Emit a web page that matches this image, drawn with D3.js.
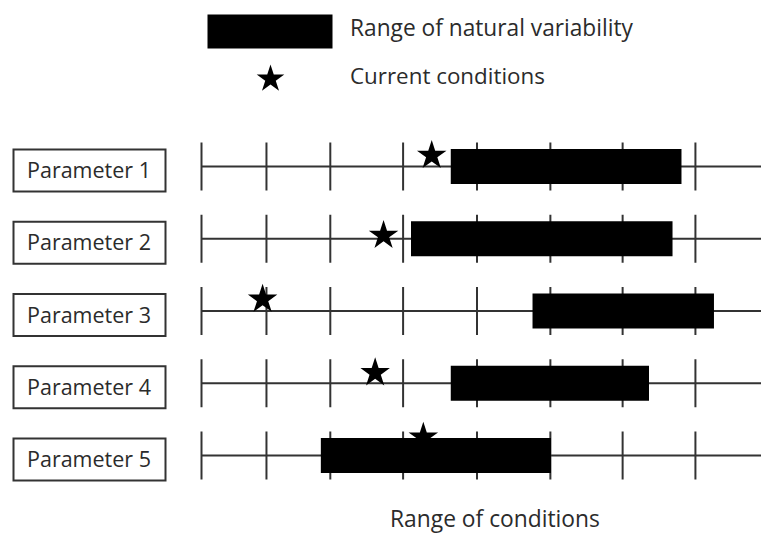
<!DOCTYPE html>
<html>
<head>
<meta charset="utf-8">
<script src="https://cdn.jsdelivr.net/npm/d3@7"></script>
<style>
  html, body { margin: 0; padding: 0; background: #fff; }
  svg { display: block; }
  text { font-family: "Open Sans", Lato, sans-serif; fill: #2b2b2b; }
</style>
</head>
<body>
<svg id="chart" width="761" height="533"></svg>
<script>
// ---- data (x in "condition" units 0..100) ----
const parameters = ["Parameter 1", "Parameter 2", "Parameter 3", "Parameter 4", "Parameter 5"];
const naturalLow  = [44.6, 37.5, 59.2, 44.6, 21.4];
const naturalHigh = [85.8, 84.2, 91.6, 80.0, 62.5];
const currentCond = [41.2, 32.6, 11.0, 31.1, 39.7];
const tickValues  = [0, 11.6, 23.0, 36.0, 49.2, 62.3, 75.2, 88.2];
const legendLabels = ["Range of natural variability", "Current conditions"];
const axisTitle = "Range of conditions";

// ---- layout ----
const svg = d3.select("#chart");
const x = d3.scaleLinear().domain([0, 100]).range([201, 761]);
const y = d3.scalePoint().domain(parameters).range([166, 455]);
const starLift = [10.5, 2.8, 11.2, 9.9, 17.8]; // hand-placed vertical offset of each star above its line
const starR = 15.5;
const starSize = starR * starR / 0.8908130915292852;
const star = d3.symbol().type(d3.symbolStar).size(starSize);

const rows = parameters.map((p, i) => ({
  name: p, lo: naturalLow[i], hi: naturalHigh[i], cur: currentCond[i], lift: starLift[i]
}));

// fit a text element to a target width by adjusting font size
function fitWidth(sel, target) {
  sel.each(function () {
    const t = d3.select(this);
    const w = this.getComputedTextLength();
    const fs = parseFloat(t.attr("font-size"));
    if (w > 0) t.attr("font-size", (fs * target / w).toFixed(2));
  });
}

// legend
const legend = svg.append("g");
legend.append("rect").attr("x", 207.5).attr("y", 14.5).attr("width", 125).attr("height", 34)
  .attr("fill", "#000");
legend.append("path").attr("d", d3.symbol().type(d3.symbolStar).size(14.5 * 14.5 / 0.8908130915292852)())
  .attr("transform", "translate(270.5,79)").attr("fill", "#000");
const legTargets = [283, 195];
legend.selectAll("text.leg").data(legendLabels).join("text").attr("class", "leg")
  .attr("x", 350).attr("y", (d, i) => i === 0 ? 36 : 84)
  .attr("font-size", 21).text(d => d)
  .each(function (d, i) { fitWidth(d3.select(this), legTargets[i]); });

// rows
const row = svg.selectAll("g.row").data(rows).join("g").attr("class", "row")
  .attr("transform", d => `translate(0,${y(d.name)})`);

// label boxes
row.append("rect").attr("x", 13.5).attr("y", -16.5).attr("width", 152).attr("height", 42)
  .attr("fill", "#fff").attr("stroke", "#333").attr("stroke-width", 2);
row.append("text").attr("x", 89).attr("y", 12).attr("text-anchor", "middle")
  .attr("font-size", 21).text(d => d.name)
  .each(function () { fitWidth(d3.select(this), 124); });

// axis line + ticks
row.each(function () {
  const g = d3.select(this).append("g");
  g.call(d3.axisBottom(x).tickValues(tickValues).tickSizeOuter(0).tickFormat(""));
  g.select(".domain").attr("stroke", "#333").attr("stroke-width", 2);
  g.selectAll(".tick line").attr("y1", -23.5).attr("y2", 24.5)
    .attr("stroke", "#333").attr("stroke-width", 2);
});

// natural variability bars
row.append("rect")
  .attr("x", d => x(d.lo)).attr("width", d => x(d.hi) - x(d.lo))
  .attr("y", -17).attr("height", 35).attr("fill", "#000");

// current condition stars
row.append("path").attr("d", star())
  .attr("transform", d => `translate(${x(d.cur)},${-d.lift})`)
  .attr("fill", "#000");

// axis title
svg.append("text").attr("x", 495).attr("y", 527).attr("text-anchor", "middle")
  .attr("font-size", 21).text(axisTitle)
  .call(fitWidth, 210);
</script>
</body>
</html>
